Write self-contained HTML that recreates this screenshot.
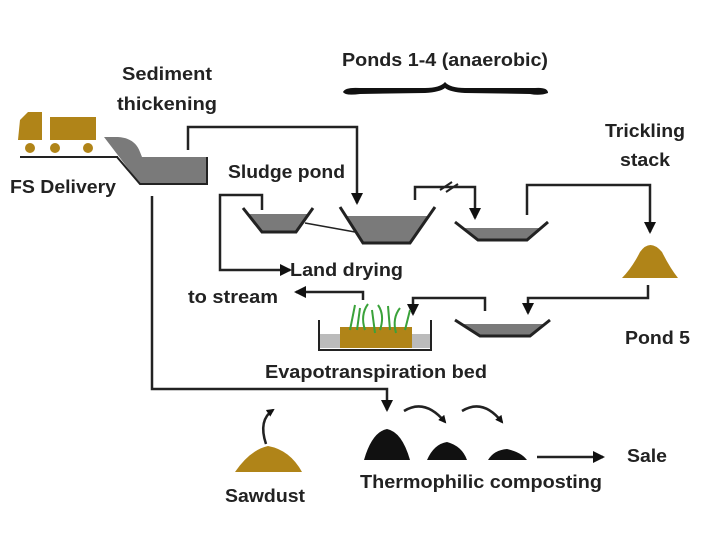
<!DOCTYPE html>
<html><head><meta charset="utf-8"><style>html,body{margin:0;padding:0;background:#fff}svg{display:block}</style></head><body>
<svg width="720" height="540" viewBox="0 0 720 540" xmlns="http://www.w3.org/2000/svg" font-family="Liberation Sans, sans-serif" font-weight="bold" font-size="18" fill="#222">
<defs><marker id="a" markerWidth="8" markerHeight="8" refX="6" refY="4" orient="auto" markerUnits="userSpaceOnUse"><path d="M0,0 L8,4 L0,8 z" fill="#111"/></marker>
<marker id="b" markerWidth="12" markerHeight="12" refX="10" refY="6" orient="auto" markerUnits="userSpaceOnUse"><path d="M0,0 L12,6 L0,12 z" fill="#111"/></marker></defs>
<g fill="#222">
<text x="122" y="80" textLength="90" lengthAdjust="spacingAndGlyphs">Sediment</text>
<text x="117" y="110" textLength="100" lengthAdjust="spacingAndGlyphs">thickening</text>
<text x="342" y="66" textLength="206" lengthAdjust="spacingAndGlyphs">Ponds 1-4 (anaerobic)</text>
<text x="605" y="137" textLength="80" lengthAdjust="spacingAndGlyphs">Trickling</text>
<text x="620" y="166" textLength="50" lengthAdjust="spacingAndGlyphs">stack</text>
<text x="10" y="193" textLength="106" lengthAdjust="spacingAndGlyphs">FS Delivery</text>
<text x="228" y="178" textLength="117" lengthAdjust="spacingAndGlyphs">Sludge pond</text>
<text x="290" y="276" textLength="113" lengthAdjust="spacingAndGlyphs">Land drying</text>
<text x="188" y="303" textLength="90" lengthAdjust="spacingAndGlyphs">to stream</text>
<text x="625" y="344" textLength="65" lengthAdjust="spacingAndGlyphs">Pond 5</text>
<text x="265" y="378" textLength="222" lengthAdjust="spacingAndGlyphs">Evapotranspiration bed</text>
<text x="627" y="462" textLength="40" lengthAdjust="spacingAndGlyphs">Sale</text>
<text x="360" y="488" textLength="242" lengthAdjust="spacingAndGlyphs">Thermophilic composting</text>
<text x="225" y="502" textLength="80" lengthAdjust="spacingAndGlyphs">Sawdust</text>
</g>
<path d="M343,92 Q345,87 360,88 L425,88 Q440,88 445,82 Q450,88 465,88 L535,88 Q548,87 548,93 Q540,96 530,94 L465,93 Q450,92 445,88 Q440,92 425,93 L360,94 Q345,96 343,92z" fill="#111"/>
<g fill="#b08418"><path d="M20,120 L28,112 L42,112 L42,140 L18,140 z"/><rect x="50" y="117" width="46" height="23"/>
<circle cx="30" cy="148" r="5"/><circle cx="55" cy="148" r="5"/><circle cx="88" cy="148" r="5"/></g>
<line x1="20" y1="157" x2="118" y2="157" stroke="#222" stroke-width="2"/>
<path d="M104,137 L118,137 Q135,138 140,152 L142,157 L207,157 L207,184 L140,184 Z" fill="#7a7a7a"/>
<path d="M117,157 L140,184 L207,184 L207,157" fill="none" stroke="#222" stroke-width="2"/>
<g fill="none" stroke="#222" stroke-width="2.5">
<polyline points="188,150 188,127 357,127 357,203" marker-end="url(#b)"/>
<polyline points="152,196 152,389 387,389 387,410" marker-end="url(#b)"/>
<polyline points="262,210 262,195 220,195 220,270 290,270" marker-end="url(#b)"/>
<polyline points="415,200 415,187 475,187 475,218" marker-end="url(#b)"/>
<polyline points="527,215 527,185 650,185 650,232" marker-end="url(#b)"/>
<polyline points="648,285 648,298 528,298 528,313" marker-end="url(#b)"/>
<polyline points="485,311 485,298 413,298 413,314" marker-end="url(#b)"/>
<polyline points="363,300 363,292 296,292" marker-end="url(#b)"/>
<line x1="537" y1="457" x2="603" y2="457" marker-end="url(#b)"/>
<path d="M404,411 Q425,398 445,422" marker-end="url(#a)"/>
<path d="M462,411 Q483,398 502,422" marker-end="url(#a)"/>
<path d="M266,444 Q258,420 273,410" marker-end="url(#a)"/>
<line x1="305" y1="223" x2="355" y2="232" stroke-width="1.5"/>
</g>
<path d="M440,190 L452,182 M446,192 L458,184" stroke="#222" stroke-width="2"/>
<g stroke="#222" stroke-width="3" fill="none">
<path d="M248,214 L262,232 L296,232 L309,214 Z" fill="#7a7a7a" stroke="none"/>
<polyline points="243,208 262,232 296,232 313,208"/>
<path d="M346,216 L363,243 L410,243 L429,216 Z" fill="#7a7a7a" stroke="none"/>
<polyline points="340,207 363,243 410,243 435,207"/>
<path d="M463,228 L478,240 L527,240 L541,228 Z" fill="#7a7a7a" stroke="none"/>
<polyline points="455,222 478,240 527,240 548,222"/>
<path d="M461,324 L480,336 L530,336 L545,324 Z" fill="#7a7a7a" stroke="none"/>
<polyline points="455,320 480,336 530,336 550,320"/>
</g>
<path d="M622,278 Q632,268 640,252 Q650,238 662,252 Q670,268 678,278 Z" fill="#b08418"/>
<path d="M235,472 Q250,450 268,446 Q290,450 302,472 Z" fill="#b08418"/>
<path d="M364,460 Q372,432 387,429 Q402,432 410,460 Z" fill="#111"/>
<path d="M427,460 Q434,444 447,442 Q462,446 467,460 Z" fill="#111"/>
<path d="M488,460 Q494,450 507,449 Q521,452 527,460 Z" fill="#111"/>
<rect x="320" y="334" width="110" height="14" fill="#bbb"/>
<rect x="340" y="327" width="72" height="21" fill="#b08418"/>
<polyline points="319,320 319,350 431,350 431,320" fill="none" stroke="#222" stroke-width="2"/>
<g stroke="#3aa23a" stroke-width="2" fill="none">
<path d="M350,330 L355,305"/><path d="M357,330 L360,308"/><path d="M365,330 Q360,315 368,304"/><path d="M375,333 L372,310"/><path d="M380,330 Q385,315 378,305"/><path d="M390,330 L388,306"/><path d="M396,333 Q392,318 400,308"/><path d="M405,330 L410,310"/>
</g>
</svg>
</body></html>
